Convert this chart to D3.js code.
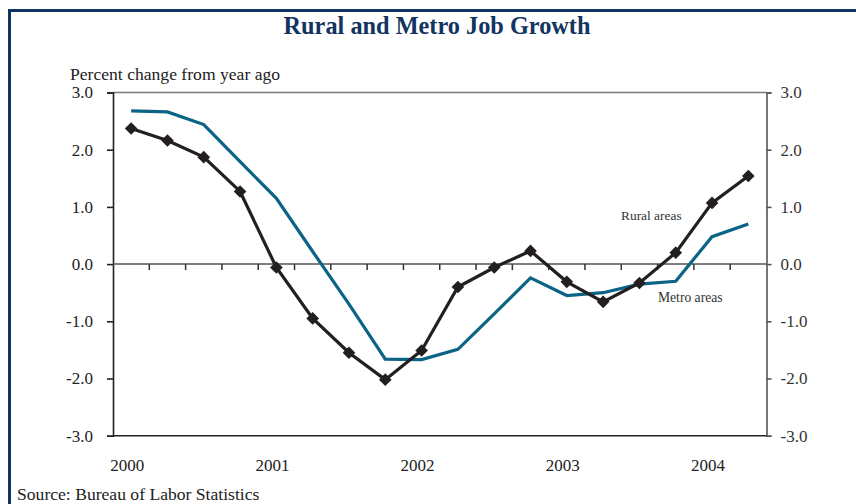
<!DOCTYPE html>
<html>
<head>
<meta charset="utf-8">
<script src="https://cdn.jsdelivr.net/npm/d3@7"></script>
<style>
  html, body { margin: 0; padding: 0; background: #fff; }
  svg { display: block; }
  text { font-family: "Liberation Serif", "Times New Roman", serif; }
</style>
</head>
<body>
<svg id="chart" width="856" height="504"></svg>
<script>
// Quarterly observations, 2000 Q1 through 2004 Q2
const quarters = [
  "2000Q1","2000Q2","2000Q3","2000Q4",
  "2001Q1","2001Q2","2001Q3","2001Q4",
  "2002Q1","2002Q2","2002Q3","2002Q4",
  "2003Q1","2003Q2","2003Q3","2003Q4",
  "2004Q1","2004Q2"
];
// Percent change in employment from a year earlier
const rural = [2.37, 2.16, 1.87, 1.27, -0.06, -0.95, -1.55, -2.02, -1.51,
               -0.40, -0.06, 0.23, -0.31, -0.66, -0.33, 0.20, 1.07, 1.54];
const metro = [2.68, 2.66, 2.44, 1.79, 1.15, 0.22, -0.70, -1.66, -1.67,
               -1.49, -0.87, -0.24, -0.55, -0.50, -0.35, -0.30, 0.48, 0.70];
const yTicks = [3, 2, 1, 0, -1, -2, -3];
const yearLabels = ["2000", "2001", "2002", "2003", "2004"];

const svg = d3.select("#chart");
const navy = "#123461";
const ruralColor = "#231f20";
const metroColor = "#0b6385";
const fmt = d => d.toFixed(1);   // plain hyphen for negatives

// Frame along top and left edges
svg.append("path")
  .attr("d", "M9.5,504 L9.5,10.5 L856,10.5")
  .attr("fill", "none")
  .attr("stroke", navy)
  .attr("stroke-width", 3);

// Title
svg.append("text")
  .attr("x", 437).attr("y", 34)
  .attr("text-anchor", "middle")
  .attr("font-size", 24.3)
  .attr("font-weight", "bold")
  .attr("fill", navy)
  .text("Rural and Metro Job Growth");

// Scales
const x = d3.scaleBand().domain(quarters).range([113, 766.5]).padding(0);
const cx = q => x(q) + x.bandwidth() / 2;
const y = d3.scaleLinear().domain([-3, 3]).range([435.7, 92.5]);

// Axis caption
svg.append("text")
  .attr("x", 70).attr("y", 80)
  .attr("font-size", 17.6)
  .attr("fill", "#222")
  .text("Percent change from year ago");

// Plot frame top edge in grey
svg.append("line")
  .attr("x1", x.range()[0]).attr("x2", x.range()[1])
  .attr("y1", y(3)).attr("y2", y(3))
  .attr("stroke", "#7a7a7a").attr("stroke-width", 1.5);

// Left axis
const leftAxis = d3.axisLeft(y).tickValues(yTicks)
  .tickFormat(fmt).tickSize(6).tickPadding(14);
const gl = svg.append("g")
  .attr("transform", `translate(${x.range()[0]},0)`)
  .call(leftAxis);
gl.select(".domain").attr("stroke", "#222").attr("stroke-width", 1.6);
gl.selectAll(".tick line").attr("stroke", "#222").attr("stroke-width", 1.6);
gl.selectAll(".tick text")
  .attr("font-family", "Liberation Serif, Times New Roman, serif")
  .attr("font-size", 17).attr("fill", "#222");

// Right axis
const rightAxis = d3.axisRight(y).tickValues(yTicks)
  .tickFormat(fmt).tickSize(5).tickPadding(9);
const gr = svg.append("g")
  .attr("transform", `translate(${x.range()[1]},0)`)
  .call(rightAxis);
gr.select(".domain").attr("stroke", "#555").attr("stroke-width", 1.6);
gr.selectAll(".tick line").attr("stroke", "#555").attr("stroke-width", 1.6);
gr.selectAll(".tick text")
  .attr("font-family", "Liberation Serif, Times New Roman, serif")
  .attr("font-size", 17).attr("fill", "#333");

// Bottom edge
svg.append("line")
  .attr("x1", x.range()[0]).attr("x2", x.range()[1])
  .attr("y1", y(-3)).attr("y2", y(-3))
  .attr("stroke", "#222").attr("stroke-width", 1.6);

// Zero line with quarter ticks hanging below
svg.append("line")
  .attr("x1", x.range()[0]).attr("x2", x.range()[1])
  .attr("y1", y(0)).attr("y2", y(0))
  .attr("stroke", "#555").attr("stroke-width", 1.5);
svg.append("g").selectAll("line")
  .data(quarters.slice(1))
  .join("line")
  .attr("x1", d => x(d)).attr("x2", d => x(d))
  .attr("y1", y(0)).attr("y2", y(0) + 6)
  .attr("stroke", "#333").attr("stroke-width", 1.5);

// Year labels under the first quarter of each year
svg.append("g").selectAll("text")
  .data(yearLabels)
  .join("text")
  .attr("x", d => cx(d + "Q1") - 4)
  .attr("y", 471)
  .attr("text-anchor", "middle")
  .attr("font-size", 17)
  .attr("fill", "#222")
  .text(d => d);

// Series lines
const line = d3.line().x((d, i) => cx(quarters[i])).y(d => y(d));

svg.append("path")
  .datum(metro)
  .attr("d", line)
  .attr("fill", "none")
  .attr("stroke", metroColor)
  .attr("stroke-width", 3.2)
  .attr("stroke-linejoin", "miter");

svg.append("path")
  .datum(rural)
  .attr("d", line)
  .attr("fill", "none")
  .attr("stroke", ruralColor)
  .attr("stroke-width", 3.2)
  .attr("stroke-linejoin", "miter");

// Diamond markers on the rural series
const diamond = d3.symbol().type(d3.symbolSquare).size(80);
svg.append("g").selectAll("path")
  .data(rural)
  .join("path")
  .attr("d", diamond)
  .attr("transform", (d, i) => `translate(${cx(quarters[i])},${y(d)}) rotate(45)`)
  .attr("fill", ruralColor);

// Series labels
svg.append("text")
  .attr("x", 621).attr("y", 220)
  .attr("font-size", 13.4)
  .attr("fill", "#333")
  .text("Rural areas");
svg.append("text")
  .attr("x", 658).attr("y", 301.5)
  .attr("font-size", 13.6)
  .attr("fill", "#333")
  .text("Metro areas");

// Source note
svg.append("text")
  .attr("x", 17).attr("y", 500)
  .attr("font-size", 17.6)
  .attr("fill", "#222")
  .text("Source: Bureau of Labor Statistics");
</script>
</body>
</html>
